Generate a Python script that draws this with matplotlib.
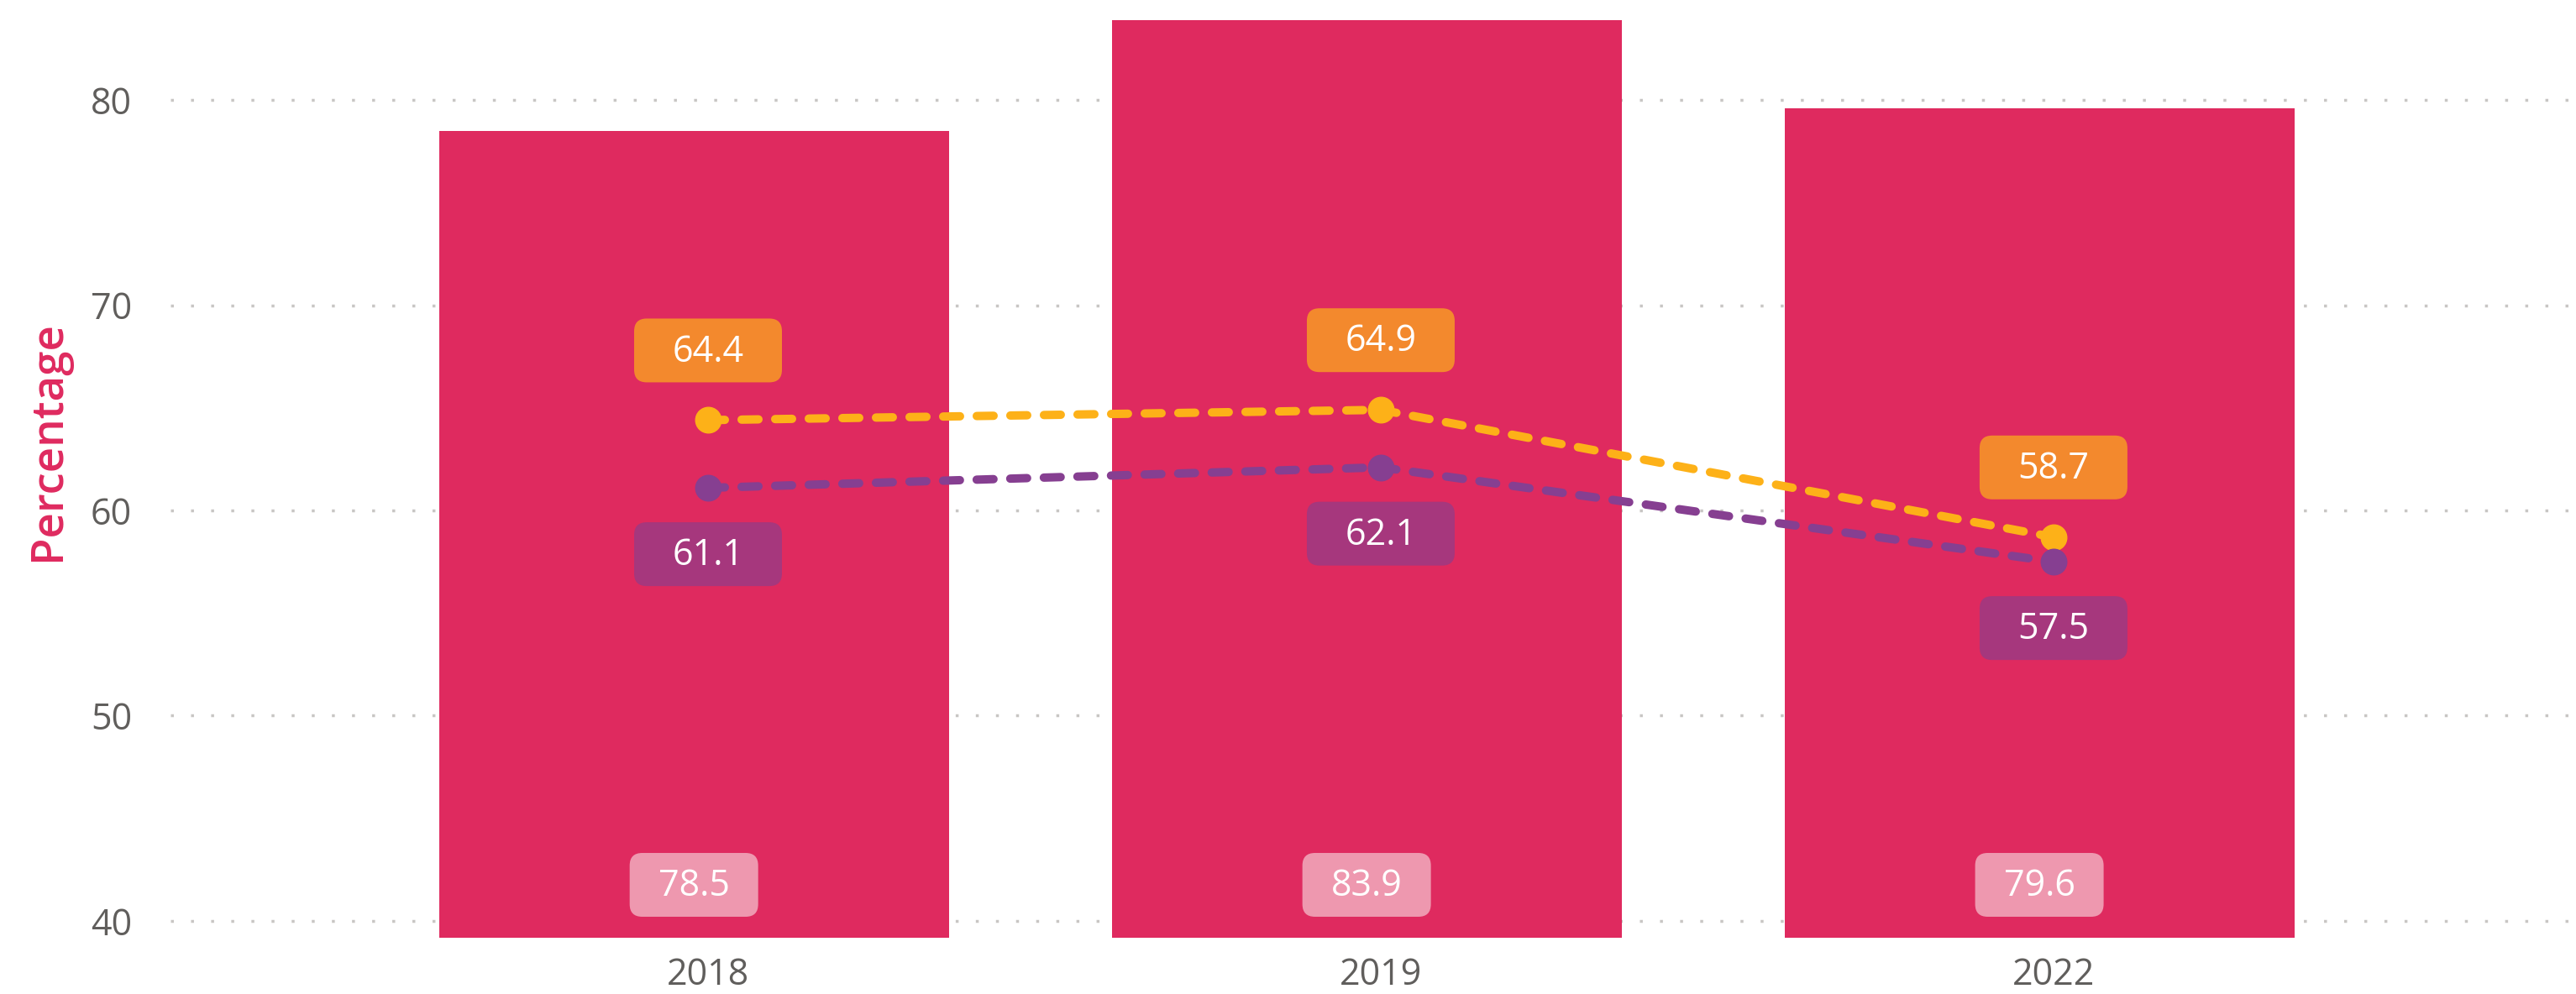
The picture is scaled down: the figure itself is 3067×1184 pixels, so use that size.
# ================================================================
# 0. Section: IMPORTS
# ================================================================
import numpy as np

from matplotlib import pyplot as plt
from matplotlib.patches import FancyBboxPatch
from matplotlib.transforms import ScaledTranslation



# ================================================================
# 1. Section: INPUTS
# ================================================================
YEARS: list[str] = ["2018", "2019", "2022"]
BAR_VALUES: list[float] = [78.5, 83.9, 79.6]
LINE_TOP_VALUES: list[float] = [64.4, 64.9, 58.7]
LINE_BOTTOM_VALUES: list[float] = [61.1, 62.1, 57.5]
Y_TICKS: list[int] = [40, 50, 60, 70, 80]

BAR_COLOR = "#DF2A5F"
BAR_BOX_COLOR = "#EE98AF"
TOP_LINE_COLOR = "#FDB118"
TOP_BOX_COLOR = "#F3892D"
BOTTOM_LINE_COLOR = "#863F91"
BOTTOM_BOX_COLOR = "#A6377D"
TEXT_COLOR = "#605E5C"
GRID_COLOR = "#C8C6C4"

FONT = ["Open Sans", "DejaVu Sans"]



# ================================================================
# 2. Section: FUNCTIONS
# ================================================================
def _label_box(fig, ax, x, y, text, dy, width, color):
    # box of fixed size (inches) anchored at a data point, shifted by dy inches
    trans = fig.dpi_scale_trans + ScaledTranslation(x, y, ax.transData)
    height = 0.76
    box = FancyBboxPatch((-width / 2, dy - height / 2), width, height,
                         boxstyle="round,pad=0,rounding_size=0.15",
                         facecolor=color, edgecolor="none",
                         transform=trans, zorder=5, clip_on=False)
    ax.add_patch(box)
    ax.text(0, dy - 0.02, text, transform=trans, ha="center", va="center",
            color="white", fontsize=31, family=FONT, zorder=6)

def draw_chart():
    fig = plt.figure(figsize=(30.67, 11.84), dpi=100)
    ax = fig.add_axes([0.0662, 0.0566, 0.9331, 0.9434])

    x = np.arange(len(YEARS))
    bar_x = x - 0.021
    ax.bar(bar_x, BAR_VALUES, width=0.758, color=BAR_COLOR, zorder=2)

    # 1. dashed lines + markers
    for values, color in [(LINE_TOP_VALUES, TOP_LINE_COLOR),
                          (LINE_BOTTOM_VALUES, BOTTOM_LINE_COLOR)]:
        ax.plot(x, values, color=color, linewidth=7.2,
                linestyle=(0, (2.0, 2.0)), dash_capstyle="round", zorder=3)
        ax.plot(x, values, linestyle="none", marker="o", markersize=22,
                color=color, zorder=4)

    # 2. axis ranges
    ax.set_xlim(-0.799, 2.774)
    ax.set_ylim(39.18, 84.87)

    # 3. data labels
    for xi, bx, bv, tv, lv in zip(x, bar_x, BAR_VALUES, LINE_TOP_VALUES, LINE_BOTTOM_VALUES):
        _label_box(fig, ax, xi, tv, f"{tv:.1f}", 0.83, 1.76, TOP_BOX_COLOR)
        _label_box(fig, ax, xi, lv, f"{lv:.1f}", -0.79, 1.76, BOTTOM_BOX_COLOR)
        _label_box(fig, ax, bx, 39.18, f"{bv:.1f}", 0.63, 1.53, BAR_BOX_COLOR)

    # 4. axes styling
    ax.set_xticks(x)
    ax.set_xticklabels(YEARS)
    ax.set_yticks(Y_TICKS)
    ax.tick_params(axis="both", length=0, labelsize=31, labelcolor=TEXT_COLOR)
    ax.tick_params(axis="y", pad=33)
    ax.tick_params(axis="x", pad=16)
    for lab in ax.get_xticklabels() + ax.get_yticklabels():
        lab.set_family(FONT)
    for spine in ax.spines.values():
        spine.set_visible(False)
    ax.yaxis.grid(True, color=GRID_COLOR, linewidth=2.5, linestyle=(0, (1, 5.9)))
    ax.set_axisbelow(True)

    fig.text(0.0186, 0.5566, "Percentage", rotation=90, ha="center", va="center",
             color=BAR_COLOR, fontsize=38, fontweight="semibold", family=FONT)
    return fig



# ================================================================
# 3. Section: MAIN
# ================================================================
if __name__ == '__main__':
    fig = draw_chart()
    fig.savefig("out.png", dpi=100)
